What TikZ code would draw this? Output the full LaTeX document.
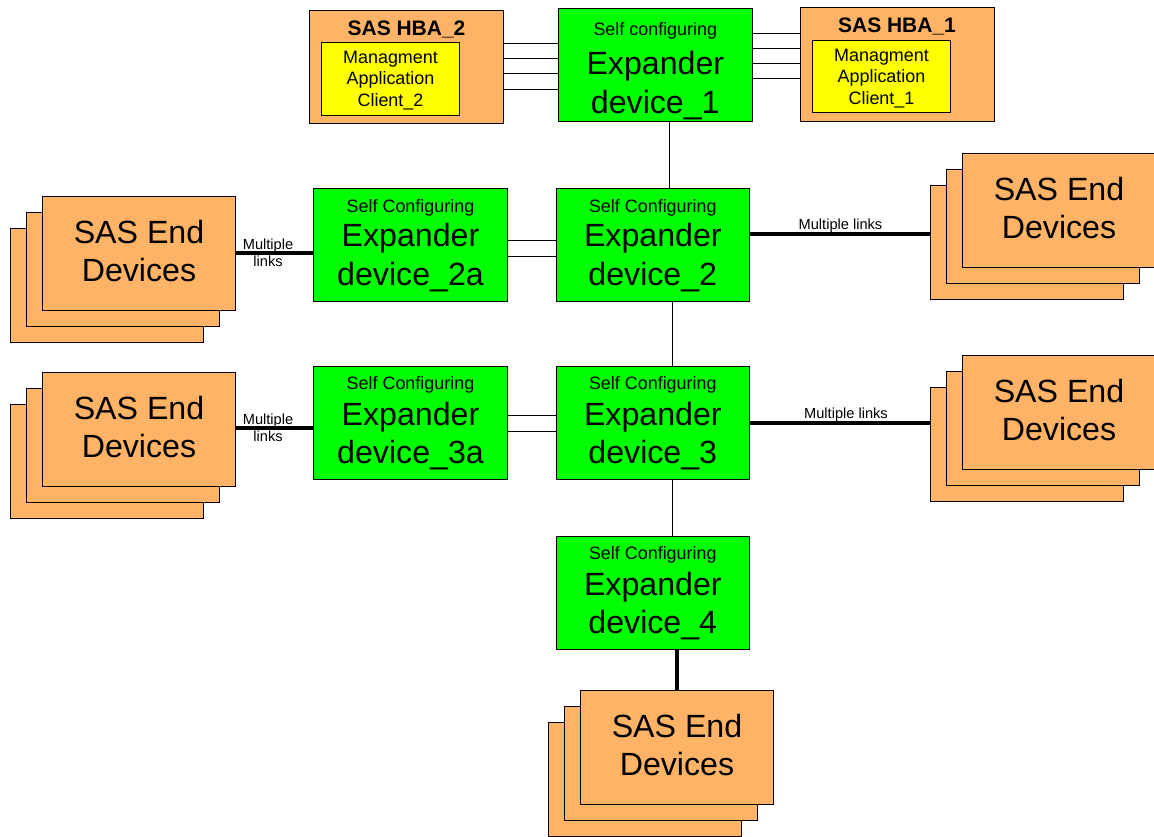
\documentclass[tikz,border=0pt]{standalone}
\usepackage{fontspec}
\setmainfont{Liberation Sans}
\definecolor{sasorange}{HTML}{FFB366}
\definecolor{expgreen}{HTML}{00FF00}
\definecolor{mgmtyellow}{HTML}{FFFF00}
\tikzset{x=0.0264583cm,y=-0.0264583cm,
 box/.style={draw=black,line width=0.6pt,inner sep=0pt,align=center,text=black},
 orangebox/.style={box,fill=sasorange},
 greenbox/.style={box,fill=expgreen},
 yellowbox/.style={box,fill=mgmtyellow},
 thinlink/.style={draw=black,line width=0.6pt},
 thicklink/.style={draw=black,line width=2.6pt},
 linklabel/.style={font=\fontsize{11pt}{12.8pt}\selectfont,inner sep=0pt,align=center},
 bigtext/.style={inner sep=0pt,align=center,font=\fontsize{24.2pt}{29.3pt}\selectfont},
 hbatitle/.style={inner sep=0pt,font=\bfseries\fontsize{15.8pt}{17pt}\selectfont},
 mgmttext/.style={inner sep=0pt,align=center,font=\fontsize{13.5pt}{16.2pt}\selectfont},
 selftext/.style={inner sep=0pt,font=\fontsize{13.5pt}{15pt}\selectfont},
 hbabox/.style={orangebox,minimum width=194*0.75pt,minimum height=114*0.75pt},
 mgmtbox/.style={yellowbox,minimum width=139*0.75pt,minimum height=73*0.75pt},
 expbox/.style={greenbox,minimum width=194.5*0.75pt,minimum height=113.5*0.75pt},
 devbox/.style={orangebox,anchor=north west,minimum width=194*0.75pt,minimum height=114*0.75pt},
}
\newcommand{\expandernode}[7]{% name cx y0 top bottomtext topoffset bottomoffset
 \node[expbox] (#1) at (#2,{#3+56.5}) {};
 \node[selftext] (#1t) at (#2,{#3+#6}) {#4};
 \node[bigtext] (#1b) at (#2,{#3+#7}) {#5};}
\newcommand{\devstack}[3]{% name x0 y0
 \node[devbox] (#1c) at ({#2-32},{#3+32}) {};
 \node[devbox] (#1b) at ({#2-16},{#3+16}) {};
 \node[devbox] (#1) at (#2,#3) {};
 \node[bigtext] (#1t) at ({#2+97},{#3+55}) {SAS End\\Devices};}
\begin{document}
\begin{tikzpicture}
\useasboundingbox (0,0) rectangle (1154,836);
% HBA
\node[hbabox] (hba2) at (406.5,67) {};
\node[hbatitle] (hba2t) at (406.5,29) {SAS HBA\_2};
\node[mgmtbox] (m2) at (390.5,79) {};
\node[mgmttext] (m2t) at (390.5,80.3) {Managment\\Application\\Client\_2};
\node[hbabox] (hba1) at (897.5,64.5) {};
\node[hbatitle] (hba1t) at (897,26.5) {SAS HBA\_1};
\node[mgmtbox] (m1) at (881.5,76.5) {};
\node[mgmttext] (m1t) at (881.5,78.5) {Managment\\Application\\Client\_1};
% expanders
\expandernode{e1}{655.3}{8}{Self configuring}{Expander\\device\_1}{23}{78}
\expandernode{e2}{652.8}{188}{Self Configuring}{Expander\\device\_2}{19.5}{70}
\expandernode{e2a}{410.5}{188}{Self Configuring}{Expander\\device\_2a}{19.5}{70}
\expandernode{e3}{652.8}{366}{Self Configuring}{Expander\\device\_3}{19}{70}
\expandernode{e3a}{410.5}{366}{Self Configuring}{Expander\\device\_3a}{19}{70}
\expandernode{e4}{652.8}{536}{Self Configuring}{Expander\\device\_4}{19}{70}
% end devices
\devstack{d2a}{42}{196}
\devstack{d3a}{42}{372}
\devstack{d2}{962}{153}
\devstack{d3}{962}{355}
\devstack{d4}{580}{690}
% thin links
\foreach \yy in {43,58,73,89} \draw[thinlink] (hba2.east |- 0,\yy) -- (e1.west |- 0,\yy);
\foreach \yy in {33,48,63,78} \draw[thinlink] (e1.east |- 0,\yy) -- (hba1.west |- 0,\yy);
\draw[thinlink] (e1.south -| 669,0) -- (e2.north -| 669,0);
\foreach \yy in {240,256} \draw[thinlink] (e2a.east |- 0,\yy) -- (e2.west |- 0,\yy);
\foreach \yy in {415,431} \draw[thinlink] (e3a.east |- 0,\yy) -- (e3.west |- 0,\yy);
\draw[thinlink] (e2.south -| 672,0) -- (e3.north -| 672,0);
\draw[thinlink] (e3.south -| 672,0) -- (e4.north -| 672,0);
% thick links
\draw[thicklink] (d2a.east |- 0,253) -- (e2a.west |- 0,253);
\draw[thicklink] (d3a.east |- 0,428) -- (e3a.west |- 0,428);
\draw[thicklink] (e2.east |- 0,234) -- (d2c.west |- 0,234);
\draw[thicklink] (e3.east |- 0,423) -- (d3c.west |- 0,423);
\draw[thicklink] (e4.south -| 677,0) -- (d4.north -| 677,0);
\node[linklabel] (l1) at (268,252.5) {Multiple\\links};
\node[linklabel] (l2) at (268,427.5) {Multiple\\links};
\node[linklabel] (l3) at (840.5,225.5) {Multiple links};
\node[linklabel] (l4) at (846,415) {Multiple links};
\end{tikzpicture}
\end{document}
